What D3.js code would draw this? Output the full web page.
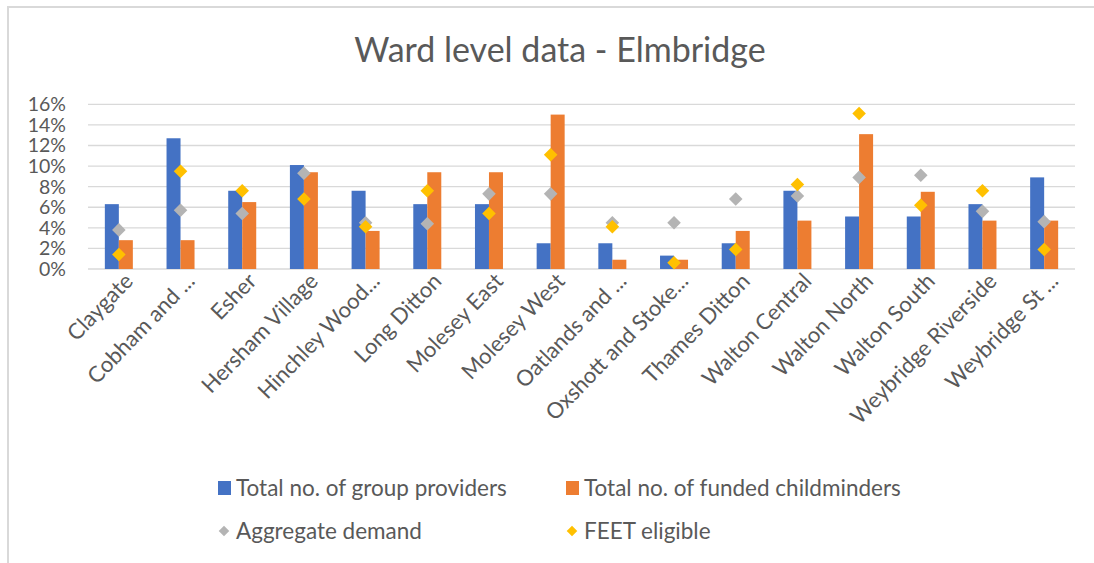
<!DOCTYPE html>
<html>
<head>
<meta charset="utf-8">
<script src="https://cdn.jsdelivr.net/npm/d3@7"></script>
<style>
  body { margin: 0; background: #fff; }
  text { font-family: Lato, "Open Sans", sans-serif; fill: #595959; }
</style>
</head>
<body>
<div id="chart"></div>
<script>
// ward names as shown on the axis (Excel truncates the long ones)
const wards = ['Claygate', 'Cobham and ...', 'Esher', 'Hersham Village', 'Hinchley Wood...', 'Long Ditton',
  'Molesey East', 'Molesey West', 'Oatlands and ...', 'Oxshott and Stoke...', 'Thames Ditton',
  'Walton Central', 'Walton North', 'Walton South', 'Weybridge Riverside', 'Weybridge St ...'];

// shares
const groupProviders = [6.3, 12.7, 7.6, 10.1, 7.6, 6.3, 6.3, 2.5, 2.5, 1.3, 2.5, 7.6, 5.1, 5.1, 6.3, 8.9];
const fundedChildminders = [2.8, 2.8, 6.5, 9.4, 3.7, 9.4, 9.4, 15.0, 0.9, 0.9, 3.7, 4.7, 13.1, 7.5, 4.7, 4.7];
const aggregateDemand = [3.8, 5.7, 5.4, 9.3, 4.5, 4.4, 7.3, 7.3, 4.5, 4.5, 6.8, 7.1, 8.9, 9.1, 5.6, 4.6];
const feetEligible = [1.4, 9.5, 7.6, 6.8, 4.1, 7.6, 5.4, 11.1, 4.1, 0.6, 1.9, 8.2, 15.1, 6.2, 7.6, 1.9];

const yTicks = [0, 2, 4, 6, 8, 10, 12, 14, 16];

const barSeries = [
  { name: 'Total no. of group providers', values: groupProviders, color: '#4472C4' },
  { name: 'Total no. of funded childminders', values: fundedChildminders, color: '#ED7D31' }
];
const markerSeries = [
  { name: 'Aggregate demand', values: aggregateDemand, color: '#B4B4B4' },
  { name: 'FEET eligible', values: feetEligible, color: '#FFC000' }
];

const width = 1094, height = 563;
const svg = d3.select('#chart').append('svg')
  .attr('width', width)
  .attr('height', height);

// chart frame
svg.append('rect')
  .attr('x', 8).attr('y', 7)
  .attr('width', width + 20).attr('height', height + 20)
  .attr('fill', 'none')
  .attr('stroke', '#D9D9D9')
  .attr('stroke-width', 2);

svg.append('text')
  .attr('x', 560).attr('y', 62)
  .attr('text-anchor', 'middle')
  .style('font-size', '34px')
  .text('Ward level data - Elmbridge');

const x = d3.scaleBand().domain(wards).range([88, 1075]);
const xInner = d3.scaleBand().domain([0, 1]).range([0, 28]);
const y = d3.scaleLinear().domain([0, 16]).range([269, 104.3]);
const cx = w => x(w) + x.bandwidth() / 2;

// gridlines
svg.append('g')
  .selectAll('line')
  .data(yTicks)
  .join('line')
  .attr('x1', 88).attr('x2', 1075)
  .attr('y1', d => y(d)).attr('y2', d => y(d))
  .attr('stroke', '#D9D9D9')
  .attr('stroke-width', 1.3);

// y labels
svg.append('g')
  .selectAll('text')
  .data(yTicks)
  .join('text')
  .attr('x', 66)
  .attr('y', d => y(d))
  .attr('dy', '0.36em')
  .attr('text-anchor', 'end')
  .style('font-size', '19.5px')
  .text(d => d + '%');

// bars
barSeries.forEach((s, i) => {
  svg.append('g')
    .selectAll('rect')
    .data(s.values)
    .join('rect')
    .attr('x', (d, j) => cx(wards[j]) - 14 + xInner(i))
    .attr('y', d => y(d))
    .attr('width', xInner.bandwidth())
    .attr('height', d => y(0) - y(d))
    .attr('fill', s.color);
});

// diamond markers
const diamond = d3.symbol(d3.symbolSquare, 92);
markerSeries.forEach(s => {
  svg.append('g')
    .selectAll('path')
    .data(s.values)
    .join('path')
    .attr('d', diamond)
    .attr('transform', (d, j) => `translate(${cx(wards[j])},${y(d)}) rotate(45)`)
    .attr('fill', s.color);
});

// x labels
svg.append('g')
  .selectAll('text')
  .data(wards)
  .join('text')
  .attr('text-anchor', 'end')
  .attr('transform', d => `translate(${cx(d) + 10},${277}) rotate(-46)`)
  .attr('dy', '0.35em')
  .style('font-size', '22px')
  .text(d => d);

// legend
const legend = [
  { s: barSeries[0], x: 218, y: 488, shape: 'rect' },
  { s: barSeries[1], x: 566, y: 488, shape: 'rect' },
  { s: markerSeries[0], x: 218, y: 531, shape: 'diamond' },
  { s: markerSeries[1], x: 566, y: 531, shape: 'diamond' }
];
const lg = svg.append('g');
legend.forEach(l => {
  if (l.shape === 'rect') {
    lg.append('rect')
      .attr('x', l.x).attr('y', l.y - 7)
      .attr('width', 13).attr('height', 14)
      .attr('fill', l.s.color);
  } else {
    lg.append('path')
      .attr('d', d3.symbol(d3.symbolSquare, 56)())
      .attr('transform', `translate(${l.x + 6},${l.y}) rotate(45)`)
      .attr('fill', l.s.color);
  }
  lg.append('text')
    .attr('x', l.x + 18).attr('y', l.y)
    .attr('dy', '0.36em')
    .style('font-size', '22.5px')
    .text(l.s.name);
});
</script>
</body>
</html>
